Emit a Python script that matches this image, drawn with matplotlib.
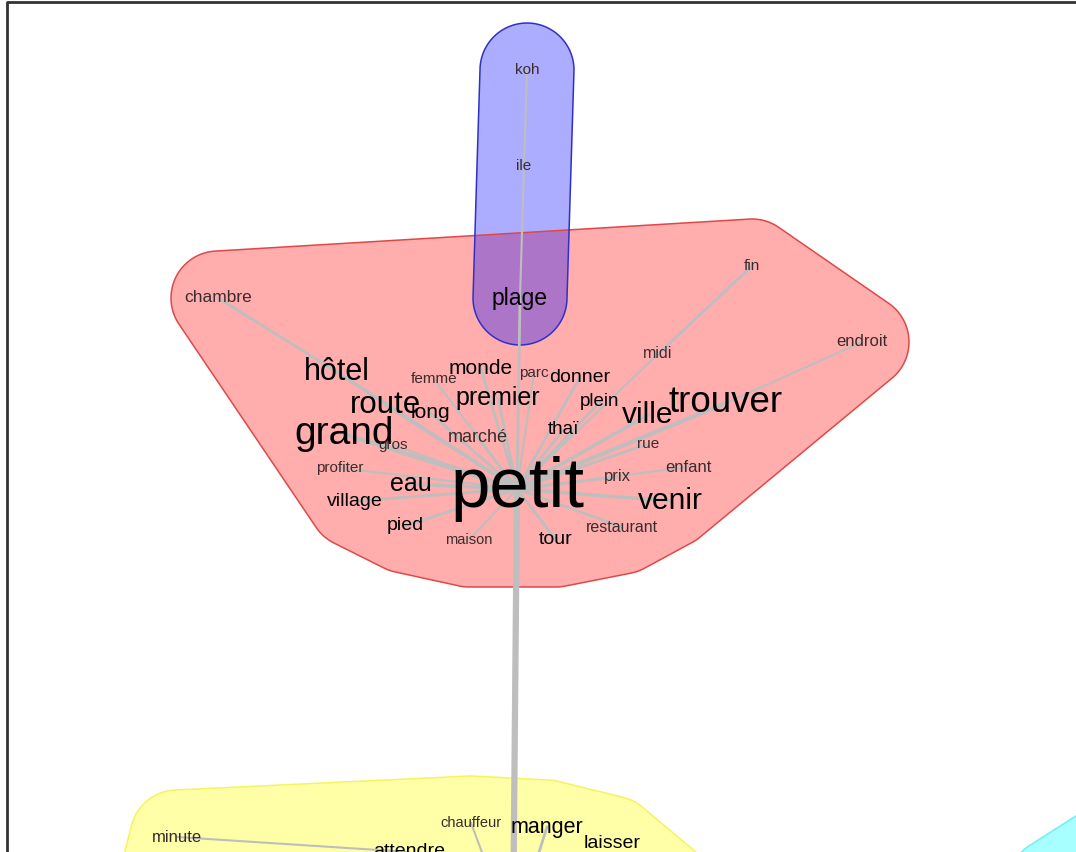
import numpy as np
import matplotlib
matplotlib.use("Agg")
import matplotlib.pyplot as plt
from matplotlib.patches import Polygon

plt.rcParams['font.family'] = ['Liberation Sans', 'DejaVu Sans']

# words of the similarity graph: label, layout x, layout y, font size, cluster
words = ["koh", "ile", "plage",
         "chambre", "hôtel", "route", "grand", "long", "femme", "monde", "parc",
         "donner", "premier", "marché", "gros", "thaï", "plein", "ville", "trouver",
         "midi", "fin", "endroit", "rue", "enfant", "prix", "venir", "restaurant",
         "tour", "maison", "pied", "village", "eau", "profiter", "petit",
         "minute", "chauffeur", "manger", "laisser", "attendre", "parler",
         "", "", "", "", ""]
xs = [527, 524, 520,
      218, 337, 386, 344, 430, 434, 481, 534,
      580, 498, 478, 393, 563, 600, 648, 726,
      658, 752, 862, 648, 688, 617, 670, 622,
      556, 469, 405, 355, 411, 340, 517,
      177, 471, 547, 612, 409, 478,
      513, 160, 680, 1055, 1110]
ys = [70, 166, 298,
      298, 372, 405, 434, 413, 379, 369, 373,
      377, 398, 438, 445, 430, 402, 415, 403,
      354, 266, 342, 444, 467, 477, 501, 527,
      540, 540, 526, 501, 484, 468, 489,
      837, 823, 827, 843, 852, 862,
      935, 905, 900, 885, 850]
sizes = [11, 11, 16.5,
         12.5, 22, 22.5, 28, 15, 11, 15, 11,
         14, 18, 13, 11, 13.5, 13.5, 21.5, 26.5,
         11.5, 11, 12, 11, 12, 12, 21.5, 11.5,
         14, 10.5, 14, 14, 18, 11, 51,
         12, 10.5, 15.5, 14, 14, 11,
         0, 0, 0, 0, 0]
clusters = [1, 1, 1,
            0, 0, 0, 0, 0, 0, 0, 0,
            0, 0, 0, 0, 0, 0, 0, 0,
            0, 0, 0, 0, 0, 0, 0, 0,
            0, 0, 0, 0, 0, 0, 0,
            2, 2, 2, 2, 2, 2,
            2, 2, 2, 3, 3]

# edges: (from, to, width)
edges = [("koh", "ile", 1.5), ("ile", "plage", 1.5), ("plage", "petit", 2),
         ("chambre", "hôtel", 2), ("hôtel", "petit", 2.5), ("route", "petit", 2.5),
         ("grand", "petit", 3), ("long", "petit", 2), ("femme", "petit", 1.5),
         ("monde", "petit", 2), ("parc", "petit", 1.5), ("donner", "petit", 2),
         ("premier", "petit", 2), ("marché", "petit", 2), ("gros", "petit", 1.5),
         ("thaï", "petit", 2), ("plein", "petit", 2), ("ville", "petit", 2.5),
         ("trouver", "petit", 3), ("endroit", "trouver", 1.5), ("midi", "petit", 1.5),
         ("fin", "midi", 2), ("rue", "petit", 2), ("enfant", "petit", 1.5),
         ("prix", "petit", 2), ("venir", "petit", 2.5), ("restaurant", "petit", 2),
         ("tour", "petit", 2), ("maison", "petit", 1.5), ("pied", "petit", 2),
         ("village", "petit", 2), ("eau", "petit", 2.5), ("profiter", "petit", 1.5),
         ("minute", "attendre", 1.5)]
# links towards the yellow cluster hub, below the visible area
hub_x, hub_y = 513, 935
hub_links = [("petit", 4.5), ("chauffeur", 1.5), ("manger", 2)]

fills = ["#ff0000", "#0000ff", "#ffff00", "#00ffff"]
borders = ["#e04848", "#3030c8", "#f4f460", "#70f0f0"]
alphas = [0.32, 0.32, 0.34, 0.34]
radius = 47


def hull(points):
    pts = sorted(set(points))
    lower, upper = [], []
    for p in pts:
        while len(lower) >= 2 and np.cross(np.subtract(lower[-1], lower[-2]), np.subtract(p, lower[-2])) <= 0:
            lower.pop()
        lower.append(p)
    for p in reversed(pts):
        while len(upper) >= 2 and np.cross(np.subtract(upper[-1], upper[-2]), np.subtract(p, upper[-2])) <= 0:
            upper.pop()
        upper.append(p)
    return lower[:-1] + upper[:-1]


fig = plt.figure(figsize=(10.76, 8.52), dpi=100)
ax = fig.add_axes([0, 0, 1, 1])
ax.set_xlim(0, 1076)
ax.set_ylim(852, 0)
ax.axis('off')

# rounded convex hulls around each cluster
theta = np.linspace(0, 2 * np.pi, 90, endpoint=False)
for c in [0, 1, 2, 3]:
    pts = []
    for x, y, k in zip(xs, ys, clusters):
        if k == c:
            pts += [(round(x + radius * np.cos(t), 2), round(y + radius * np.sin(t), 2)) for t in theta]
    outline = hull(pts)
    ax.add_patch(Polygon(outline, closed=True, facecolor=fills[c], alpha=alphas[c], lw=0, zorder=1))
    ax.add_patch(Polygon(outline, closed=True, fill=False, edgecolor=borders[c], lw=1.1, zorder=1.5))

pos = {w: (x, y) for w, x, y in zip(words, xs, ys) if w}
for a, b, w in edges:
    ax.plot([pos[a][0], pos[b][0]], [pos[a][1], pos[b][1]], color="#bebebe", lw=w,
            solid_capstyle='round', zorder=2)
for a, w in hub_links:
    ax.plot([pos[a][0], hub_x], [pos[a][1], hub_y], color="#bebebe", lw=w, zorder=2)

for w, x, y, s in zip(words, xs, ys, sizes):
    if not w:
        continue
    shade = "#000000" if s >= 13.5 else "#3a2c2c"
    ax.text(x, y, w, fontsize=s, ha='center', va='center', color=shade, zorder=3)

# screenshot frame
ax.plot([7, 7, 1076], [852, 2, 2], color="#333333", lw=2, clip_on=False, zorder=4)

fig.savefig("out.png", dpi=100)
